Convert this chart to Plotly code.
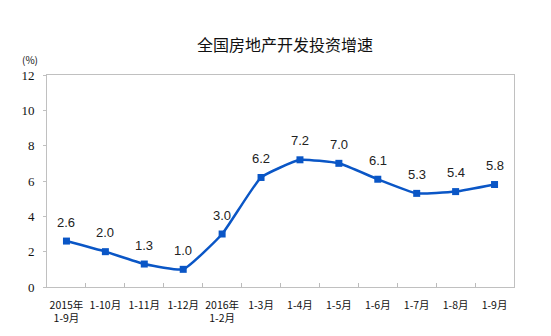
import plotly.graph_objects as go

categories = ["2015年<br>1-9月", "1-10月", "1-11月", "1-12月", "2016年<br>1-2月",
              "1-3月", "1-4月", "1-5月", "1-6月", "1-7月", "1-8月", "1-9月"]
growth = [2.6, 2.0, 1.3, 1.0, 3.0, 6.2, 7.2, 7.0, 6.1, 5.3, 5.4, 5.8]
y_ticks = [0, 2, 4, 6, 8, 10, 12]

line_color = "#0a56c6"

fig = go.Figure()
fig.add_trace(go.Scatter(
    x=categories, y=growth, mode="lines+markers",
    line=dict(color=line_color, width=2.5, shape="spline", smoothing=0.4),
    marker=dict(symbol="square", size=7, color=line_color),
    hoverinfo="skip", showlegend=False,
))

for c, v in zip(categories, growth):
    fig.add_annotation(x=c, y=v, text=f"{v:.1f}", showarrow=False, yshift=19,
                       font=dict(family="Liberation Sans, Arial", size=13, color="#222"))

fig.update_layout(
    width=551, height=336,
    margin=dict(l=47, r=37, t=75, b=49),
    paper_bgcolor="white", plot_bgcolor="white",
    title=dict(text="全国房地产开发投资增速", x=285/551, xanchor="center",
               y=1 - 45/336, yanchor="middle",
               font=dict(family="Noto Sans CJK SC", size=16, color="#111")),
    xaxis=dict(
        type="category", tickson="boundaries", ticks="inside", ticklen=4,
        tickcolor="#bbbbbb", showgrid=False, showline=True, linecolor="#c0c0c0",
        linewidth=1, mirror=True, zeroline=False, tickangle=0, automargin=False,
        tickfont=dict(family="Noto Sans CJK SC", size=10.5, color="#111"),
        range=[-0.5, len(categories) - 0.5], ticklabelstandoff=8,
    ),
    yaxis=dict(
        range=[0, 12], tickvals=y_ticks, ticks="outside", ticklen=3,
        tickcolor="#c0c0c0", showgrid=False, showline=True, linecolor="#c0c0c0",
        linewidth=1, mirror=True, zeroline=False, automargin=False,
        tickfont=dict(family="Liberation Serif, Times New Roman", size=13, color="#111"),
        ticklabelstandoff=6,
    ),
)

fig.add_annotation(text="(%)", xref="paper", yref="paper", x=(30 - 47) / 467,
                   y=(287 - 59) / 212, showarrow=False, xanchor="center", yanchor="middle",
                   font=dict(family="Noto Sans CJK SC", size=10, color="#111"))

fig.write_html("out.html")
